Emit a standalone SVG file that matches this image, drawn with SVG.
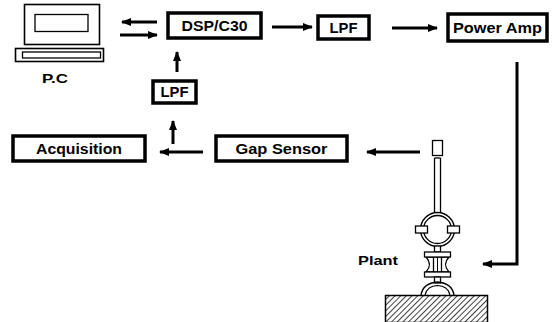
<svg xmlns="http://www.w3.org/2000/svg" width="556" height="322" viewBox="0 0 556 322">
<style>
.box{fill:#fff;stroke:#000;stroke-width:3.5}
.lbl{font-family:"Liberation Sans",Arial,sans-serif;font-weight:bold;font-size:14px;fill:#000;text-anchor:middle}
.con{stroke:#000;stroke-width:3;fill:none}
.thin{stroke:#000;stroke-width:1.3;fill:#fff}
</style>
<defs>
<marker id="ah" markerWidth="10" markerHeight="8" refX="9" refY="4" orient="auto" markerUnits="userSpaceOnUse">
<path d="M0,0 L10,4 L0,8 z" fill="#000"/>
</marker>
<pattern id="hatch" width="4" height="4" patternUnits="userSpaceOnUse" patternTransform="rotate(45)">
<rect width="4" height="4" fill="#fff"/>
<line x1="0" y1="0" x2="0" y2="4" stroke="#000" stroke-width="1.5"/>
</pattern>
</defs>
<rect width="556" height="322" fill="#fff"/>

<g id="pc">
<rect x="24.5" y="4.5" width="75" height="40" class="thin" style="stroke-width:1.6"/>
<rect x="35" y="14.5" width="53" height="17" class="thin"/>
<rect x="15.5" y="48.5" width="88" height="13" class="thin" style="stroke-width:1.6"/>
<rect x="22.5" y="52" width="78" height="6" class="thin"/>
<text x="55" y="83" class="lbl" style="font-size:13px" textLength="26" lengthAdjust="spacingAndGlyphs">P.C</text>
</g>

<g id="dsp">
<rect x="168" y="13" width="93" height="25" class="box"/>
<text x="214.5" y="31" class="lbl" textLength="66" lengthAdjust="spacingAndGlyphs">DSP/C30</text>
</g>

<g id="lpf1">
<rect x="318" y="16" width="51" height="23" class="box"/>
<text x="343.5" y="33" class="lbl" textLength="28" lengthAdjust="spacingAndGlyphs">LPF</text>
</g>

<g id="poweramp">
<rect x="448" y="14" width="99" height="27" class="box"/>
<text x="497.5" y="33" class="lbl" textLength="89" lengthAdjust="spacingAndGlyphs">Power Amp</text>
</g>

<g id="lpf2">
<rect x="153" y="81" width="43" height="22" class="box"/>
<text x="174.5" y="97" class="lbl" textLength="28" lengthAdjust="spacingAndGlyphs">LPF</text>
</g>

<g id="acquisition">
<rect x="13" y="136" width="132" height="25" class="box"/>
<text x="79" y="154" class="lbl" textLength="86" lengthAdjust="spacingAndGlyphs">Acquisition</text>
</g>

<g id="gapsensor">
<rect x="216" y="136" width="131" height="25" class="box"/>
<text x="281.5" y="154" class="lbl" textLength="92" lengthAdjust="spacingAndGlyphs">Gap Sensor</text>
</g>

<g id="plant">
<rect x="432.5" y="140.5" width="10" height="15" class="thin"/>
<line x1="434.5" y1="158" x2="434.5" y2="213" stroke="#000" stroke-width="1.3"/>
<line x1="440.5" y1="158" x2="440.5" y2="213" stroke="#000" stroke-width="1.3"/>
<line x1="434.5" y1="158" x2="440.5" y2="158" stroke="#000" stroke-width="1.3"/>
<circle cx="437.5" cy="229.5" r="17" fill="none" stroke="#000" stroke-width="1.4"/>
<circle cx="437.5" cy="229.5" r="14" fill="none" stroke="#000" stroke-width="1.3"/>
<rect x="415.5" y="226" width="12" height="7" class="thin"/>
<rect x="447.5" y="226" width="12" height="7" class="thin"/>
<rect x="434.5" y="246" width="6" height="6" class="thin"/>
<path d="M426,257 Q433,264.5 426,272 L449,272 Q442,264.5 449,257 Z" class="thin"/>
<rect x="433.5" y="257" width="8" height="15" class="thin"/>
<line x1="437.5" y1="257" x2="437.5" y2="272" stroke="#000" stroke-width="1"/>
<rect x="424.5" y="252" width="26" height="5" class="thin"/>
<rect x="424.5" y="272" width="26" height="5" class="thin"/>
<rect x="434.5" y="277" width="6" height="6" class="thin"/>
<path d="M421,295 Q423,283 437.5,282 Q452,283 454,295" fill="none" stroke="#000" stroke-width="1.4"/>
<path d="M425,295 Q427,286 437.5,285.5 Q448,286 450,295" fill="none" stroke="#000" stroke-width="1.2"/>
<rect x="385.5" y="295.5" width="102" height="27" fill="url(#hatch)" stroke="#000" stroke-width="1.5"/>
<text x="378" y="265" class="lbl" style="font-size:13px" textLength="40" lengthAdjust="spacingAndGlyphs">Plant</text>
</g>

<g id="connectors">
<line x1="157" y1="22" x2="122" y2="22" class="con" marker-end="url(#ah)"/>
<line x1="120" y1="35" x2="157" y2="35" class="con" marker-end="url(#ah)"/>
<line x1="272" y1="27" x2="312" y2="27" class="con" marker-end="url(#ah)"/>
<line x1="392" y1="28" x2="437" y2="28" class="con" marker-end="url(#ah)"/>
<polyline points="517,62 517,264 483,264" class="con" marker-end="url(#ah)"/>
<line x1="420" y1="152" x2="367" y2="152" class="con" marker-end="url(#ah)"/>
<line x1="203" y1="152" x2="160" y2="152" class="con" marker-end="url(#ah)"/>
<line x1="173" y1="144" x2="173" y2="121" class="con" marker-end="url(#ah)"/>
<line x1="177" y1="72" x2="177" y2="52" class="con" marker-end="url(#ah)"/>
</g>
</svg>
